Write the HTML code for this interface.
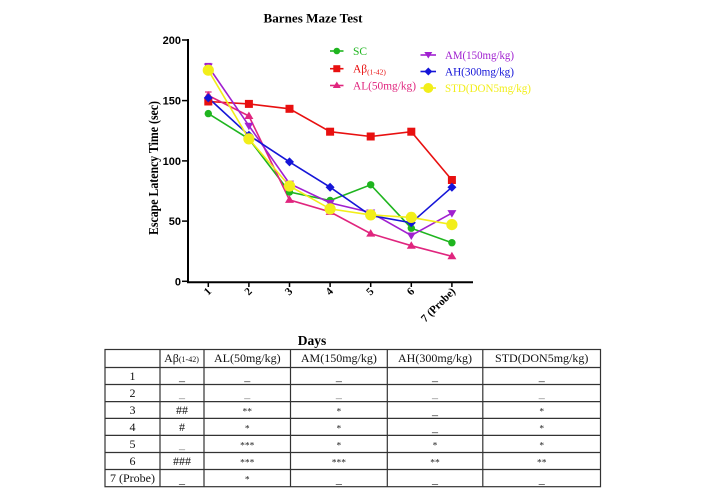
<!DOCTYPE html>
<html><head><meta charset="utf-8"><style>
html,body{margin:0;padding:0;background:#fff;}
svg{display:block;}
</style></head><body>
<svg width="706" height="497" viewBox="0 0 706 497" xmlns="http://www.w3.org/2000/svg">
<rect width="706" height="497" fill="#fff"/>
<!-- Title -->
<text x="313" y="22.5" font-family="Liberation Serif, serif" font-weight="bold" font-size="13" text-anchor="middle" textLength="99" lengthAdjust="spacingAndGlyphs">Barnes Maze Test</text>
<!-- Y title -->
<text transform="translate(158,168) rotate(-90)" font-family="Liberation Serif, serif" font-weight="bold" font-size="13.5" text-anchor="middle" textLength="134" lengthAdjust="spacingAndGlyphs">Escape Latency  Time (sec)</text>
<!-- Axes -->
<g stroke="#000" stroke-width="2" fill="none">
<line x1="188" y1="39" x2="188" y2="282.3"/>
<line x1="187" y1="282.3" x2="473" y2="282.3"/>
</g>
<g stroke="#000" stroke-width="1.5">
<line x1="182" y1="40" x2="188" y2="40"/>
<line x1="182" y1="100.6" x2="188" y2="100.6"/>
<line x1="182" y1="160.9" x2="188" y2="160.9"/>
<line x1="182" y1="221.1" x2="188" y2="221.1"/>
<line x1="182" y1="281.3" x2="188" y2="281.3"/>
<line x1="208.3" y1="282" x2="208.3" y2="287"/>
<line x1="248.9" y1="282" x2="248.9" y2="287"/>
<line x1="289.5" y1="282" x2="289.5" y2="287"/>
<line x1="330.1" y1="282" x2="330.1" y2="287"/>
<line x1="370.7" y1="282" x2="370.7" y2="287"/>
<line x1="411.3" y1="282" x2="411.3" y2="287"/>
<line x1="451.9" y1="282" x2="451.9" y2="287"/>
</g>
<g font-family="Liberation Sans, sans-serif" font-weight="bold" font-size="11" text-anchor="end">
<text x="181" y="44">200</text>
<text x="181" y="104.6">150</text>
<text x="181" y="164.9">100</text>
<text x="181" y="225.1">50</text>
<text x="181" y="285.3">0</text>
</g>
<g font-family="Liberation Serif, serif" font-weight="bold" font-size="11" text-anchor="end">
<text transform="translate(212,292) rotate(-45)">1</text>
<text transform="translate(252.6,292) rotate(-45)">2</text>
<text transform="translate(293.2,292) rotate(-45)">3</text>
<text transform="translate(333.8,292) rotate(-45)">4</text>
<text transform="translate(374.4,292) rotate(-45)">5</text>
<text transform="translate(415,292) rotate(-45)">6</text>
<text transform="translate(456,292) rotate(-45)">7 (Probe)</text>
</g>
<text x="312" y="345" font-family="Liberation Serif, serif" font-weight="bold" font-size="13.5" text-anchor="middle">Days</text>

<!-- Series lines -->
<g fill="none" stroke-width="1.6">
<polyline stroke="#1fb51f" points="208.3,113.6 248.9,138.9 289.5,192 330.1,200.5 370.7,184.8 411.3,228.2 451.9,242.7"/>
<polyline stroke="#e81010" points="208.3,101.5 248.9,103.9 289.5,108.8 330.1,131.7 370.7,136.5 411.3,131.7 451.9,180"/>
<polyline stroke="#e0257e" points="208.3,95.5 248.9,116 289.5,199.9 330.1,211.9 370.7,233.6 411.3,245.7 451.9,256.3"/>
<polyline stroke="#a020d0" points="208.3,66.5 248.9,125.7 289.5,183.6 330.1,202.9 370.7,212.5 411.3,235.5 451.9,213.1"/>
<polyline stroke="#1515d8" points="208.3,97.9 248.9,135.3 289.5,161.9 330.1,187.2 370.7,215.5 411.3,222.8 451.9,187.2"/>
<polyline stroke="#f2ee1a" points="208.3,70.2 248.9,138.9 289.5,186 330.1,208.9 370.7,214.9 411.3,217.4 451.9,224.6"/>
</g>
<!-- error caps -->
<g stroke-width="1.2">
<line x1="205" y1="63.5" x2="211.6" y2="63.5" stroke="#a020d0"/>
<line x1="205" y1="92" x2="211.6" y2="92" stroke="#e0257e"/>
</g>
<!-- markers SC -->
<g fill="#1fb51f">
<circle cx="208.3" cy="113.6" r="3.7"/><circle cx="248.9" cy="138.9" r="3.7"/><circle cx="289.5" cy="192" r="3.7"/><circle cx="330.1" cy="200.5" r="3.7"/><circle cx="370.7" cy="184.8" r="3.7"/><circle cx="411.3" cy="228.2" r="3.7"/><circle cx="451.9" cy="242.7" r="3.7"/>
</g>
<!-- markers Abeta -->
<g fill="#e81010">
<rect x="204.3" y="97.5" width="8" height="8"/><rect x="244.9" y="99.9" width="8" height="8"/><rect x="285.5" y="104.8" width="8" height="8"/><rect x="326.1" y="127.7" width="8" height="8"/><rect x="366.7" y="132.5" width="8" height="8"/><rect x="407.3" y="127.7" width="8" height="8"/><rect x="447.9" y="176" width="8" height="8"/>
</g>
<!-- markers AL (triangle up) -->
<g fill="#e0257e">
<polygon points="208.3,91 212.8,98.5 203.8,98.5"/>
<polygon points="248.9,111.5 253.4,119 244.4,119"/>
<polygon points="289.5,195.4 294,202.9 285,202.9"/>
<polygon points="330.1,207.4 334.6,214.9 325.6,214.9"/>
<polygon points="370.7,229.1 375.2,236.6 366.2,236.6"/>
<polygon points="411.3,241.2 415.8,248.7 406.8,248.7"/>
<polygon points="451.9,251.8 456.4,259.3 447.4,259.3"/>
</g>
<!-- markers AM (triangle down) -->
<g fill="#a020d0">
<polygon points="203.8,63.5 212.8,63.5 208.3,71"/>
<polygon points="244.4,122.7 253.4,122.7 248.9,130.2"/>
<polygon points="285,180.6 294,180.6 289.5,188.1"/>
<polygon points="325.6,199.9 334.6,199.9 330.1,207.4"/>
<polygon points="366.2,209.5 375.2,209.5 370.7,217"/>
<polygon points="406.8,232.5 415.8,232.5 411.3,240"/>
<polygon points="447.4,210.1 456.4,210.1 451.9,217.6"/>
</g>
<!-- markers AH (diamond) -->
<g fill="#1515d8">
<polygon points="208.3,93.4 212.8,97.9 208.3,102.4 203.8,97.9"/>
<polygon points="248.9,130.8 253.4,135.3 248.9,139.8 244.4,135.3"/>
<polygon points="289.5,157.4 294,161.9 289.5,166.4 285,161.9"/>
<polygon points="330.1,182.7 334.6,187.2 330.1,191.7 325.6,187.2"/>
<polygon points="370.7,211 375.2,215.5 370.7,220 366.2,215.5"/>
<polygon points="411.3,218.3 415.8,222.8 411.3,227.3 406.8,222.8"/>
<polygon points="451.9,182.7 456.4,187.2 451.9,191.7 447.4,187.2"/>
</g>
<!-- markers STD -->
<g fill="#f2ee1a">
<circle cx="208.3" cy="70.2" r="5.6"/><circle cx="248.9" cy="138.9" r="5.6"/><circle cx="289.5" cy="186" r="5.6"/><circle cx="330.1" cy="208.9" r="5.6"/><circle cx="370.7" cy="214.9" r="5.6"/><circle cx="411.3" cy="217.4" r="5.6"/><circle cx="451.9" cy="224.6" r="5.6"/>
</g>

<!-- Legend -->
<g stroke-width="1.6">
<line x1="330" y1="51" x2="343.5" y2="51" stroke="#1fb51f"/>
<line x1="330" y1="68.7" x2="343.5" y2="68.7" stroke="#e81010"/>
<line x1="330" y1="85.5" x2="343.5" y2="85.5" stroke="#e0257e"/>
<line x1="420.5" y1="55" x2="436" y2="55" stroke="#a020d0"/>
<line x1="420.5" y1="71.5" x2="436" y2="71.5" stroke="#1515d8"/>
<line x1="420.5" y1="88" x2="436" y2="88" stroke="#f2ee1a"/>
</g>
<circle cx="336.8" cy="51" r="3.3" fill="#1fb51f"/>
<rect x="333.3" y="65.2" width="7" height="7" fill="#e81010"/>
<polygon points="336.8,81.5 340.8,88 332.8,88" fill="#e0257e"/>
<polygon points="424.3,52 432.3,52 428.3,58.5" fill="#a020d0"/>
<polygon points="428.3,67.5 432.3,71.5 428.3,75.5 424.3,71.5" fill="#1515d8"/>
<circle cx="428.3" cy="88" r="5" fill="#f2ee1a"/>
<g font-family="Liberation Serif, serif" font-size="11.5">
<text x="353" y="55" fill="#1fb51f">SC</text>
<text x="353" y="72.5" fill="#e81010">Aβ<tspan font-size="7.5" dy="2">(1-42)</tspan></text>
<text x="353" y="89.5" fill="#e0257e" textLength="63" lengthAdjust="spacingAndGlyphs">AL(50mg/kg)</text>
<text x="445" y="59" fill="#a020d0" textLength="69" lengthAdjust="spacingAndGlyphs">AM(150mg/kg)</text>
<text x="445" y="75.5" fill="#1515d8" textLength="69" lengthAdjust="spacingAndGlyphs">AH(300mg/kg)</text>
<text x="445" y="92" fill="#f2ee1a" textLength="86" lengthAdjust="spacingAndGlyphs">STD(DON5mg/kg)</text>
</g>

<!-- Table -->
<g stroke="#333" stroke-width="1.2" fill="none">
<rect x="105" y="349.5" width="495.5" height="137.2"/>
<line x1="105" y1="367.5" x2="600.5" y2="367.5"/>
<line x1="105" y1="384.5" x2="600.5" y2="384.5"/>
<line x1="105" y1="401.6" x2="600.5" y2="401.6"/>
<line x1="105" y1="418.4" x2="600.5" y2="418.4"/>
<line x1="105" y1="435.4" x2="600.5" y2="435.4"/>
<line x1="105" y1="452.5" x2="600.5" y2="452.5"/>
<line x1="105" y1="469.5" x2="600.5" y2="469.5"/>
<line x1="160" y1="349.5" x2="160" y2="486.7"/>
<line x1="204" y1="349.5" x2="204" y2="486.7"/>
<line x1="290.5" y1="349.5" x2="290.5" y2="486.7"/>
<line x1="387.3" y1="349.5" x2="387.3" y2="486.7"/>
<line x1="482.8" y1="349.5" x2="482.8" y2="486.7"/>
</g>
<g font-family="Liberation Serif, serif" font-size="12" text-anchor="middle" fill="#111">
<!-- header -->
<text x="181.5" y="362">Aβ<tspan font-size="8">(1-42)</tspan></text>
<text x="247.3" y="362">AL(50mg/kg)</text>
<text x="338.9" y="362">AM(150mg/kg)</text>
<text x="435" y="362">AH(300mg/kg)</text>
<text x="541.7" y="362">STD(DON5mg/kg)</text>
<!-- row labels -->
<text x="132.5" y="380">1</text>
<text x="132.5" y="397">2</text>
<text x="132.5" y="414">3</text>
<text x="132.5" y="431">4</text>
<text x="132.5" y="448">5</text>
<text x="132.5" y="465">6</text>
<text x="132.5" y="482">7 (Probe)</text>
<!-- dashes / hashes -->
<text x="182" y="380.5">_</text><text x="247.3" y="380.5">_</text><text x="338.9" y="380.5">_</text><text x="435" y="380.5">_</text><text x="541.7" y="380.5">_</text>
<text x="182" y="397.5" fill="#777">_</text><text x="247.3" y="397.5" fill="#777">_</text><text x="338.9" y="397.5" fill="#777">_</text><text x="435" y="397.5" fill="#777">_</text><text x="541.7" y="397.5" fill="#777">_</text>
<text x="182" y="414">##</text><text x="435" y="414.5">_</text>
<text x="182" y="431">#</text><text x="435" y="431.5">_</text>
<text x="182" y="448.5" fill="#777">_</text>
<text x="182" y="465">###</text>
<text x="182" y="483">_</text><text x="338.9" y="483">_</text><text x="435" y="483">_</text><text x="541.7" y="483">_</text>
</g>
<g font-family="Liberation Serif, serif" font-size="9.5" text-anchor="middle" fill="#222">
<text x="247.3" y="414.5">**</text><text x="338.9" y="414.5">*</text><text x="541.7" y="414.5">*</text>
<text x="247.3" y="431.5">*</text><text x="338.9" y="431.5">*</text><text x="541.7" y="431.5">*</text>
<text x="247.3" y="448.5">***</text><text x="338.9" y="448.5">*</text><text x="435" y="448.5">*</text><text x="541.7" y="448.5">*</text>
<text x="247.3" y="465.5">***</text><text x="338.9" y="465.5">***</text><text x="435" y="465.5">**</text><text x="541.7" y="465.5">**</text>
<text x="247.3" y="482.5">*</text>
</g>
</svg>
</body></html>
